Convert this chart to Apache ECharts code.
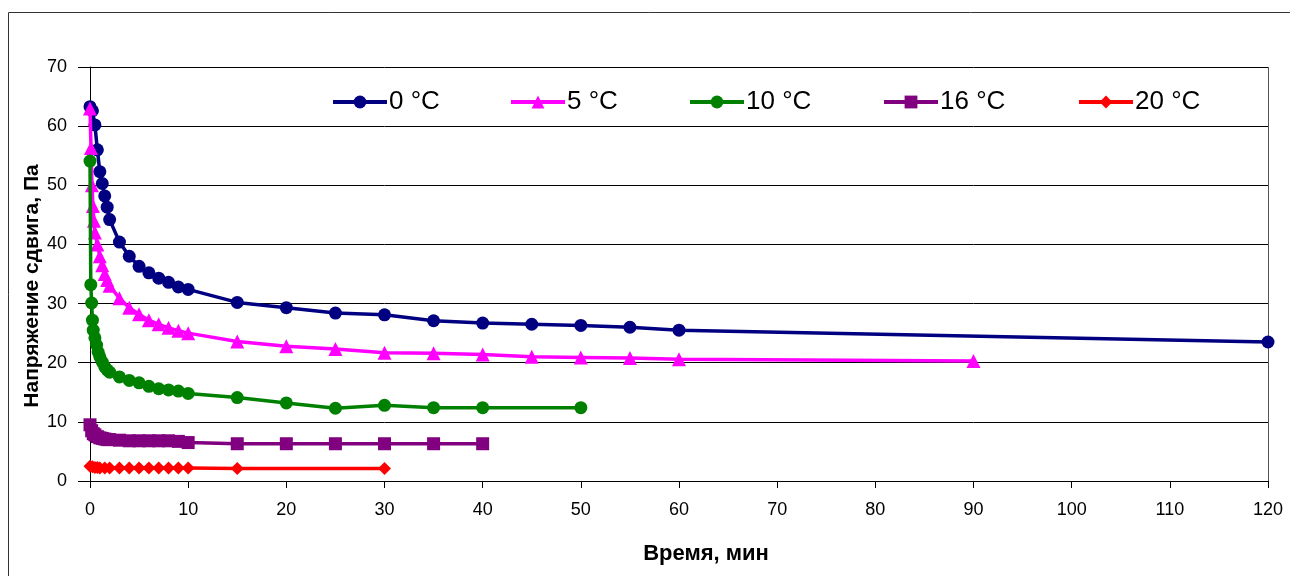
<!DOCTYPE html>
<html>
<head>
<meta charset="utf-8">
<script src="https://cdn.jsdelivr.net/npm/echarts@6/dist/echarts.min.js"></script>
<style>
  html, body { margin: 0; padding: 0; background: #fff; }
  #chart { width: 1290px; height: 576px; }
</style>
</head>
<body>
<div id="chart"></div>
<script>
// Shear stress relaxation at different temperatures
const seriesNames = ['0 °C', '5 °C', '10 °C', '16 °C', '20 °C'];

const t0 = [0, 0.25, 0.5, 0.75, 1, 1.25, 1.5, 1.75, 2, 3, 4, 5, 6, 7, 8, 9, 10, 15, 20, 25, 30, 35, 40, 45, 50, 55, 60, 120];
const v0 = [63.3, 62.6, 60.2, 56.0, 52.3, 50.3, 48.2, 46.3, 44.2, 40.4, 38.0, 36.3, 35.2, 34.3, 33.6, 32.8, 32.4, 30.2, 29.3, 28.4, 28.1, 27.1, 26.7, 26.5, 26.3, 26.0, 25.5, 23.5];

const t5 = [0, 0.1, 0.2, 0.3, 0.4, 0.5, 0.75, 1, 1.25, 1.5, 1.75, 2, 3, 4, 5, 6, 7, 8, 9, 10, 15, 20, 25, 30, 35, 40, 45, 50, 55, 60, 90];
const v5 = [63.0, 56.3, 50.0, 46.5, 44.0, 42.0, 40.0, 38.0, 36.5, 35.0, 34.0, 33.0, 30.9, 29.3, 28.2, 27.2, 26.5, 25.9, 25.4, 25.0, 23.6, 22.8, 22.3, 21.7, 21.6, 21.4, 21.0, 20.9, 20.8, 20.6, 20.3];

const t10 = [0, 0.08, 0.17, 0.25, 0.33, 0.5, 0.67, 0.83, 1, 1.25, 1.5, 1.75, 2, 3, 4, 5, 6, 7, 8, 9, 10, 15, 20, 25, 30, 35, 40, 50];
const v10 = [54.1, 33.2, 30.1, 27.2, 25.5, 24.2, 23.0, 21.8, 21.0, 20.1, 19.3, 18.8, 18.4, 17.6, 17.0, 16.6, 16.0, 15.6, 15.4, 15.2, 14.8, 14.1, 13.2, 12.3, 12.8, 12.4, 12.4, 12.4];

const t16 = [0, 0.17, 0.33, 0.5, 0.75, 1, 1.25, 1.5, 1.75, 2, 3, 4, 5, 6, 7, 8, 9, 10, 15, 20, 25, 30, 35, 40];
const v16 = [9.5, 8.5, 8.0, 7.8, 7.5, 7.3, 7.2, 7.1, 7.0, 7.0, 6.9, 6.8, 6.8, 6.8, 6.8, 6.8, 6.7, 6.5, 6.3, 6.3, 6.3, 6.3, 6.3, 6.3];

const t20 = [0, 0.25, 0.5, 0.75, 1, 1.5, 2, 3, 4, 5, 6, 7, 8, 9, 10, 15, 30];
const v20 = [2.5, 2.4, 2.3, 2.3, 2.2, 2.2, 2.2, 2.2, 2.2, 2.2, 2.2, 2.2, 2.2, 2.2, 2.2, 2.1, 2.1];

const xTicks = [0, 10, 20, 30, 40, 50, 60, 70, 80, 90, 100, 110, 120];
const yTicks = [0, 10, 20, 30, 40, 50, 60, 70];

const colors = ['#000080', '#FF00FF', '#008000', '#800080', '#FF0000'];
const symbols = ['circle', 'triangle', 'circle', 'rect', 'diamond'];
const symbolSizes = [13, 14, 13, 13, 13];
// left edge of each legend entry
const legendLeft = [331, 509, 688, 882, 1077];

const FONT = 'Arial, "Liberation Sans", sans-serif';

function zip(ts, vs) { return ts.map((t, i) => [t, vs[i]]); }
const allData = [zip(t0, v0), zip(t5, v5), zip(t10, v10), zip(t16, v16), zip(t20, v20)];

const chart = echarts.init(document.getElementById('chart'), null, { renderer: 'canvas' });

chart.setOption({
  animation: false,
  backgroundColor: '#ffffff',
  textStyle: { fontFamily: FONT },
  graphic: [{
    type: 'rect',
    shape: { x: 8.5, y: 12.5, width: 1300, height: 600 },
    style: { fill: 'none', stroke: '#333', lineWidth: 1 },
    silent: true
  }, {
    type: 'line',
    shape: { x1: 1268.5, y1: 67, x2: 1268.5, y2: 481 },
    style: { stroke: '#555', lineWidth: 1 },
    silent: true
  }],
  legend: seriesNames.map((name, i) => ({
    top: 89,
    left: legendLeft[i],
    padding: 0,
    itemWidth: 54,
    itemHeight: 16,
    lineStyle: { width: 4 },
    textStyle: { fontSize: 26, color: '#000', fontFamily: FONT, padding: [0, 0, 0, -3] },
    data: [name]
  })),
  grid: { left: 90, right: 22, top: 67, bottom: 95, containLabel: false },
  xAxis: {
    type: 'value',
    min: xTicks[0],
    max: xTicks[xTicks.length - 1],
    interval: 10,
    name: 'Время, мин',
    nameLocation: 'middle',
    nameGap: 62,
    nameTextStyle: { fontSize: 22, fontWeight: 'bold', color: '#000', fontFamily: FONT, padding: [0, 0, 0, 54] },
    axisLine: { lineStyle: { color: '#000', width: 1 } },
    axisTick: { show: true, length: 7, inside: false, lineStyle: { color: '#000' } },
    axisLabel: { fontSize: 18, color: '#000', margin: 20, fontFamily: FONT },
    splitLine: { show: false }
  },
  yAxis: {
    type: 'value',
    min: yTicks[0],
    max: yTicks[yTicks.length - 1],
    interval: 10,
    name: 'Напряжение сдвига, Па',
    nameLocation: 'middle',
    nameGap: 47,
    nameMoveOverlap: false,
    nameTextStyle: { fontSize: 21, fontWeight: 'bold', color: '#000', fontFamily: FONT, padding: [0, 24, 0, 0] },
    axisLine: { show: true, lineStyle: { color: '#000', width: 1 } },
    axisTick: { show: true, length: 12, lineStyle: { color: '#000' } },
    axisLabel: { fontSize: 18, color: '#000', margin: 23, fontFamily: FONT },
    splitLine: { show: true, lineStyle: { color: '#000', width: 1 } }
  },
  series: seriesNames.map((name, i) => ({
    name: name,
    type: 'line',
    data: allData[i],
    symbol: symbols[i],
    symbolSize: symbolSizes[i],
    showAllSymbol: true,
    lineStyle: { color: colors[i], width: 3.5 },
    itemStyle: { color: colors[i] },
    z: 2 + i
  }))
});
</script>
</body>
</html>
